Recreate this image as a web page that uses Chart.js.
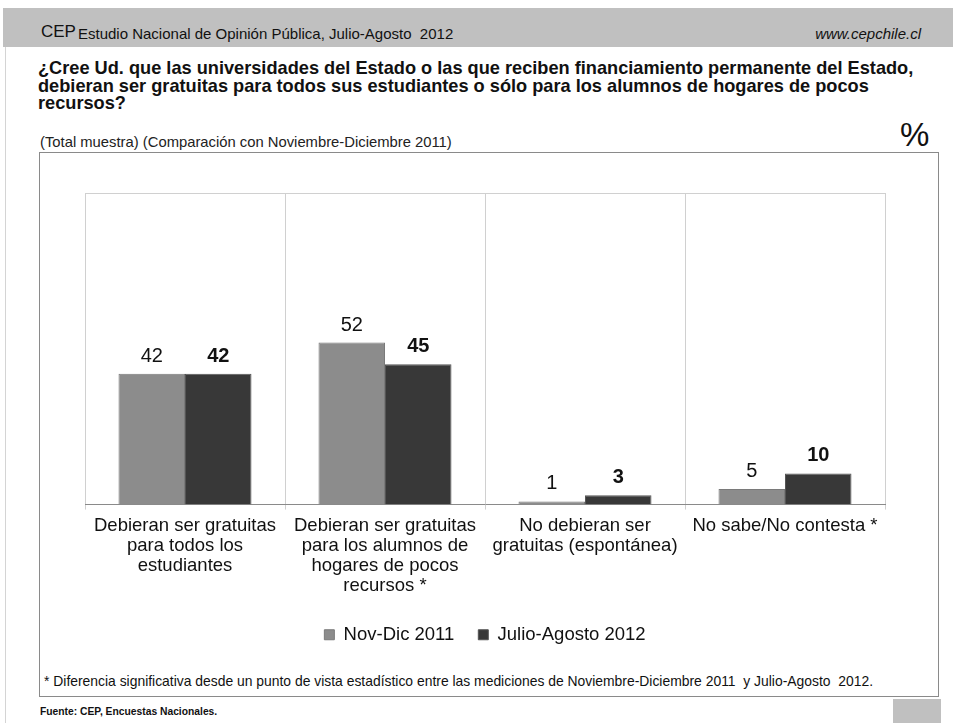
<!DOCTYPE html>
<html lang="es">
<head>
<meta charset="UTF-8">
<title>CEP - Gratuidad universidades</title>
<script src="https://cdn.jsdelivr.net/npm/chart.js@4.4.0/dist/chart.umd.min.js"></script>
<style>
    body {
        margin: 0;
        width: 953px;
        height: 723px;
        position: relative;
        background: #fff;
        font-family: "Liberation Sans", Arial, sans-serif;
        overflow: hidden;
    }
    .abs { position: absolute; white-space: nowrap; }
    .header {
        position: absolute; left: 3px; top: 8px; width: 950px; height: 39px;
        background: #c0c0c0;
    }
    .leftline {
        position: absolute; left: 5px; top: 47px; width: 1px; height: 676px;
        background: #d4d4d4;
    }
    .frame {
        position: absolute; left: 39px; top: 152px; width: 900px; height: 545px;
        border: 1px solid #8a8a8a;
        box-sizing: border-box;
    }
    .corner {
        position: absolute; left: 893px; top: 699px; width: 48px; height: 24px;
        background: #c0c0c0;
    }
    #chartBox {
        position: absolute; left: 40px; top: 153px; width: 898px; height: 505px;
    }
</style>
</head>
<body>
<div class="header"></div>
<div class="leftline"></div>
<div class="abs" style="left:41px; top:22px; font-size:17px; color:#111;">CEP</div>
<div class="abs" style="left:78px; top:25px; font-size:15px; color:#111;">Estudio Nacional de Opinión Pública, Julio-Agosto&nbsp; 2012</div>
<div class="abs" style="right:32px; top:25px; font-size:15px; font-style:italic; color:#111;">www.cepchile.cl</div>

<div class="abs" style="left:38px; top:60px; font-size:18.2px; font-weight:bold; line-height:17.5px; color:#111;">¿Cree Ud. que las universidades del Estado o las que reciben financiamiento permanente del Estado,<br>debieran ser gratuitas para todos sus estudiantes o sólo para los alumnos de hogares de pocos<br>recursos?</div>
<div class="abs" style="left:40px; top:134px; font-size:14.8px; color:#222;">(Total muestra) (Comparación con Noviembre-Diciembre 2011)</div>
<div class="abs" style="left:900px; top:116px; font-size:33px; color:#111;">%</div>

<div class="frame"></div>
<div id="chartBox"><canvas id="gratuidadChart"></canvas></div>

<div class="abs" style="left:44px; top:673px; font-size:13.9px; color:#111;">* Diferencia significativa desde un punto de vista estadístico entre las mediciones de Noviembre-Diciembre 2011&nbsp; y Julio-Agosto&nbsp; 2012.</div>
<div class="abs" style="left:40px; top:706px; font-size:10.3px; font-weight:bold; color:#111;">Fuente: CEP, Encuestas Nacionales.</div>
<div class="corner"></div>

<script>
    // categorias y valores (%)
    const categorias = [
        ['Debieran ser gratuitas', 'para todos los', 'estudiantes'],
        ['Debieran ser gratuitas', 'para los alumnos de', 'hogares de pocos', 'recursos *'],
        ['No debieran ser', 'gratuitas (espontánea)'],
        ['No sabe/No contesta *']
    ];
    const serieNombres = ['Nov-Dic 2011', 'Julio-Agosto 2012'];
    const novDic2011 = [42, 52, 1, 5];
    const julAgo2012 = [42, 45, 3, 10];

    const fontFam = '"Liberation Sans", Arial, sans-serif';

    // etiquetas de valor sobre las barras
    const valueLabels = {
        id: 'valueLabels',
        afterDatasetsDraw(chart) {
            const ctx = chart.ctx;
            ctx.save();
            ctx.textAlign = 'center';
            ctx.textBaseline = 'alphabetic';
            ctx.fillStyle = '#111';
            chart.data.datasets.forEach((ds, i) => {
                const meta = chart.getDatasetMeta(i);
                ctx.font = (i === 1 ? 'bold ' : '') + '20px ' + fontFam;
                meta.data.forEach((bar, j) => {
                    ctx.fillText(ds.data[j], bar.x, bar.y - 12);
                });
            });
            ctx.restore();
        }
    };

    // borde superior del area de grafico
    const plotTop = {
        id: 'plotTop',
        beforeDatasetsDraw(chart) {
            const a = chart.chartArea;
            const ctx = chart.ctx;
            ctx.save();
            ctx.strokeStyle = '#d0d0d0';
            ctx.lineWidth = 1;
            ctx.beginPath();
            ctx.moveTo(a.left, Math.round(a.top) + 0.5);
            ctx.lineTo(a.right, Math.round(a.top) + 0.5);
            ctx.stroke();
            ctx.restore();
        }
    };

    new Chart(document.getElementById('gratuidadChart'), {
        type: 'bar',
        data: {
            labels: categorias,
            datasets: [{
                label: serieNombres[0],
                data: novDic2011,
                backgroundColor: '#8c8c8c',
                borderColor: '#7a7a7a',
                borderWidth: 1
            }, {
                label: serieNombres[1],
                data: julAgo2012,
                backgroundColor: '#383838',
                borderColor: '#555555',
                borderWidth: 1
            }]
        },
        options: {
            responsive: true,
            maintainAspectRatio: false,
            animation: false,
            categoryPercentage: 0.665,
            barPercentage: 1,
            layout: {
                padding: { top: 40, left: 45, right: 53, bottom: 4 }
            },
            scales: {
                x: {
                    grid: { color: '#d0d0d0', tickLength: 5, offset: true },
                    border: { color: '#8a8a8a' },
                    ticks: {
                        autoSkip: false,
                        maxRotation: 0,
                        padding: 6,
                        color: '#111',
                        font: { family: fontFam, size: 18.5, lineHeight: 1.08 }
                    }
                },
                y: {
                    display: false,
                    min: 0,
                    max: 100
                }
            },
            plugins: {
                legend: {
                    position: 'bottom',
                    labels: {
                        boxWidth: 10,
                        boxHeight: 10,
                        padding: 24,
                        color: '#111',
                        font: { family: fontFam, size: 18.5 }
                    }
                },
                tooltip: { enabled: false }
            }
        },
        plugins: [valueLabels, plotTop]
    });
</script>
</body>
</html>
